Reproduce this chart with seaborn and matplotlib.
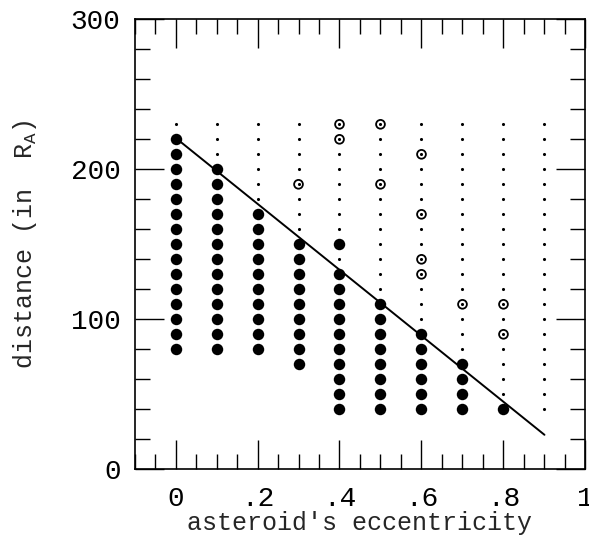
import numpy as np
import pandas as pd
import matplotlib
matplotlib.use("Agg")
import matplotlib.pyplot as plt
import seaborn as sns
from matplotlib.ticker import MultipleLocator, FixedLocator, FixedFormatter

# eccentricity columns of the test grid
ecc_columns = [0.0, 0.1, 0.2, 0.3, 0.4, 0.5, 0.6, 0.7, 0.8, 0.9]
# lowest tested distance in each column (all columns go up to 230)
grid_bottom = [80, 80, 80, 70, 40, 40, 40, 40, 40, 40]
grid_top = 230

# filled circles (per column)
filled_points = {
  0.0: [80, 90, 100, 110, 120, 130, 140, 150, 160, 170, 180, 190, 200, 210, 220],
  0.1: [80, 90, 100, 110, 120, 130, 140, 150, 160, 170, 180, 190, 200],
  0.2: [80, 90, 100, 110, 120, 130, 140, 150, 160, 170],
  0.3: [70, 80, 90, 100, 110, 120, 130, 140, 150],
  0.4: [40, 50, 60, 70, 80, 90, 100, 110, 120, 130, 150],
  0.5: [40, 50, 60, 70, 80, 90, 100, 110],
  0.6: [40, 50, 60, 70, 80, 90],
  0.7: [40, 50, 60, 70],
  0.8: [40],
}

# open circles
open_ecc = [0.3, 0.4, 0.4, 0.5, 0.5, 0.6, 0.6, 0.6, 0.6, 0.7, 0.8, 0.8]
open_dist = [190, 220, 230, 190, 230, 130, 140, 170, 210, 110, 90, 110]

# straight line
line_ecc = [0.0, 0.9]
line_dist = [221, 23]

# axis ticks
x_major = [0, 0.2, 0.4, 0.6, 0.8, 1.0]
x_major_labels = ["0", ".2", ".4", ".6", ".8", "1"]
y_major = [0, 100, 200, 300]

#
# build data frames
#
grid_rows = []
for e, lo in zip(ecc_columns, grid_bottom):
  for d in range(lo, grid_top + 1, 10):
    grid_rows.append((e, d))
df_grid = pd.DataFrame(grid_rows, columns=["ecc", "dist"])

filled_rows = [(e, d) for e, dists in filled_points.items() for d in dists]
df_filled = pd.DataFrame(filled_rows, columns=["ecc", "dist"])

df_open = pd.DataFrame({"ecc": open_ecc, "dist": open_dist})
df_line = pd.DataFrame({"ecc": line_ecc, "dist": line_dist})

#
# plot
#
sns.set_style("ticks")
plt.rcParams["font.family"] = ["Liberation Mono", "DejaVu Sans Mono"]
plt.rcParams["mathtext.fontset"] = "custom"
plt.rcParams["mathtext.rm"] = "Liberation Mono"

fig = plt.figure(figsize=(5.89, 5.44), dpi=100)
ax = fig.add_axes([0.2284, 0.1373, 0.7656, 0.8272])

sns.scatterplot(data=df_grid, x="ecc", y="dist", ax=ax, color="black",
                s=5, marker="o", linewidth=0, zorder=2)
sns.lineplot(data=df_line, x="ecc", y="dist", ax=ax, color="black",
             linewidth=1.4, zorder=3)
sns.scatterplot(data=df_filled, x="ecc", y="dist", ax=ax, color="black",
                s=68, marker="o", linewidth=0, zorder=4)
sns.scatterplot(data=df_open, x="ecc", y="dist", ax=ax, facecolor="none",
                edgecolor="black", s=40, marker="o", linewidth=1.3, zorder=4)

ax.set_xlim(-0.1, 1.0)
ax.set_ylim(0, 300)

ax.xaxis.set_major_locator(FixedLocator(x_major))
ax.xaxis.set_major_formatter(FixedFormatter(x_major_labels))
ax.xaxis.set_minor_locator(MultipleLocator(0.05))
ax.yaxis.set_major_locator(FixedLocator(y_major))
ax.yaxis.set_minor_locator(MultipleLocator(20))

ax.tick_params(which="both", direction="in", top=True, right=True,
               width=1.0, colors="black", labelsize=20)
ax.tick_params(which="major", length=21)
ax.tick_params(which="minor", length=10.5)
ax.tick_params(axis="x", which="major", pad=12)
ax.tick_params(axis="y", which="major", pad=10)

for spine in ax.spines.values():
  spine.set_linewidth(1.2)
  spine.set_color("black")

ax.set_xlabel("asteroid's eccentricity", fontsize=18, labelpad=-1)
ax.set_ylabel(r"distance (in  R$_\mathrm{A}$)", fontsize=18, labelpad=23)

fig.savefig("out.png", dpi=100)
